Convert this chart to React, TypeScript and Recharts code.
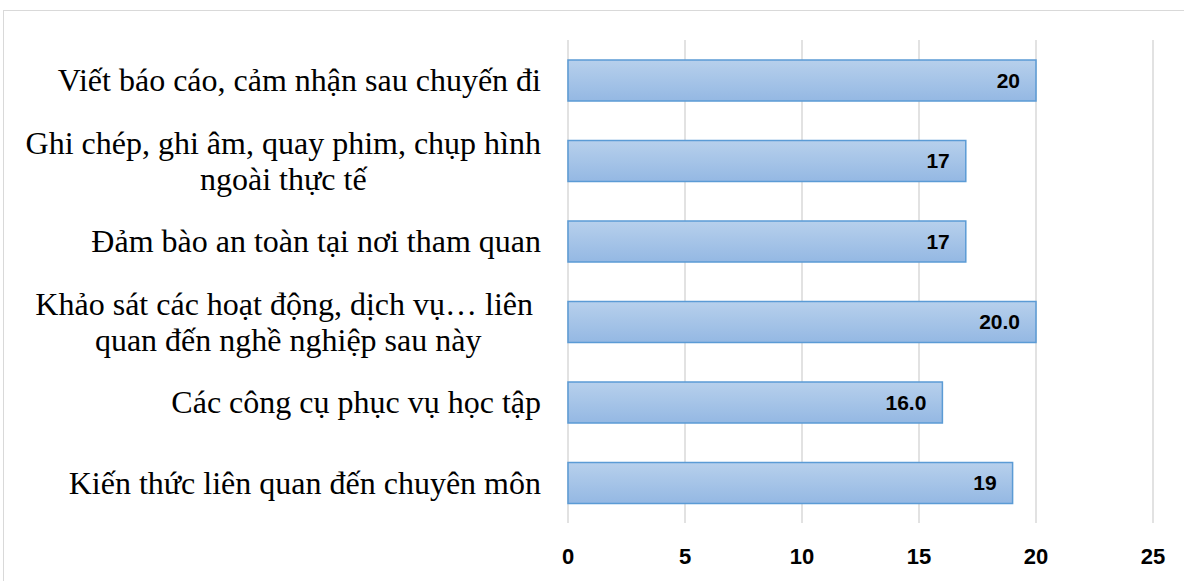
import React from 'react';
import { BarChart, Bar, XAxis, YAxis, CartesianGrid, LabelList } from 'recharts';

const categories = [
  'Viết báo cáo, cảm nhận sau chuyến đi',
  'Ghi chép, ghi âm, quay phim, chụp hình\nngoài thực tế',
  'Đảm bào an toàn tại nơi tham quan',
  'Khảo sát các hoạt động, dịch vụ… liên \nquan đến nghề nghiệp sau này',
  'Các công cụ phục vụ học tập',
  'Kiến thức liên quan đến chuyên môn',
];
const values = [20, 17, 17, 20, 16, 19];
const valueLabels = ['20', '17', '17', '20.0', '16.0', '19'];
const xTicks = [0, 5, 10, 15, 20, 25];

const data = categories.map((name, i) => ({ name, value: values[i], label: valueLabels[i] }));

const SERIF = '"Liberation Serif", "Times New Roman", serif';
const SANS = '"Liberation Sans", Arial, sans-serif';
const LABEL_SIZE = 32;
const LINE_H = 36;

let ctx: CanvasRenderingContext2D | null = null;
function measure(text: string) {
  if (!ctx) ctx = document.createElement('canvas').getContext('2d');
  if (!ctx) return text.length * LABEL_SIZE * 0.45;
  ctx.font = `${LABEL_SIZE}px ${SERIF}`;
  return ctx.measureText(text).width;
}

function CategoryTick(props: any) {
  const { x, y, payload } = props;
  const lines: string[] = String(payload.value).split('\n');
  const startY = y - ((lines.length - 1) * LINE_H) / 2;
  if (lines.length === 1) {
    return (
      <text x={x} y={y} dy="0.35em" textAnchor="end" fontFamily={SERIF} fontSize={LABEL_SIZE} fill="#000">
        {lines[0]}
      </text>
    );
  }
  // Excel centres wrapped lines within the widest one (trailing space kept)
  const maxW = Math.max(...lines.map(measure));
  const cx = x - maxW / 2;
  return (
    <text textAnchor="middle" fontFamily={SERIF} fontSize={LABEL_SIZE} fill="#000" style={{ whiteSpace: 'pre' }}>
      {lines.map((l, i) => (
        <tspan key={i} x={cx} y={startY + i * LINE_H} dy="0.35em">
          {l}
        </tspan>
      ))}
    </text>
  );
}

export default function App() {
  return (
    <div style={{ position: 'absolute', left: 0, top: 0, width: 1184, height: 581, background: '#fff', overflow: 'hidden' }}>
      <div
        style={{
          position: 'absolute',
          left: 3,
          top: 10,
          width: 1200,
          height: 600,
          borderTop: '1.5px solid #d9d9d9',
          borderLeft: '1.5px solid #d9d9d9',
        }}
      />
      <div style={{ position: 'absolute', left: 0, top: 0 }}>
        <BarChart
          width={1184}
          height={581}
          data={data}
          layout="vertical"
          margin={{ top: 40, right: 31, left: 0, bottom: 0 }}
        >
          <defs>
            <linearGradient id="barFill" x1="0" y1="0" x2="0" y2="1">
              <stop offset="0%" stopColor="#b7d0ec" />
              <stop offset="100%" stopColor="#94b8e3" />
            </linearGradient>
          </defs>
          <CartesianGrid horizontal={false} stroke="#d9d9d9" strokeWidth={1.5} />
          <XAxis
            type="number"
            domain={[0, 25]}
            ticks={xTicks}
            interval={0}
            axisLine={false}
            tickLine={false}
            height={58}
            tickSize={0}
            tickMargin={25}
            tick={{ fontFamily: SANS, fontSize: 22, fontWeight: 'bold', fill: '#000' }}
          />
          <YAxis
            type="category"
            dataKey="name"
            width={568}
            axisLine={false}
            tickLine={false}
            tickSize={0}
            tickMargin={27}
            interval={0}
            tick={<CategoryTick />}
          />
          <Bar dataKey="value" barSize={41} fill="url(#barFill)" stroke="#5b9bd5" strokeWidth={1.5} isAnimationActive={false}>
            <LabelList
              dataKey="label"
              position="insideRight"
              offset={16}
              style={{ fontFamily: SANS, fontSize: 21, fontWeight: 'bold', fill: '#000' }}
            />
          </Bar>
        </BarChart>
      </div>
    </div>
  );
}
